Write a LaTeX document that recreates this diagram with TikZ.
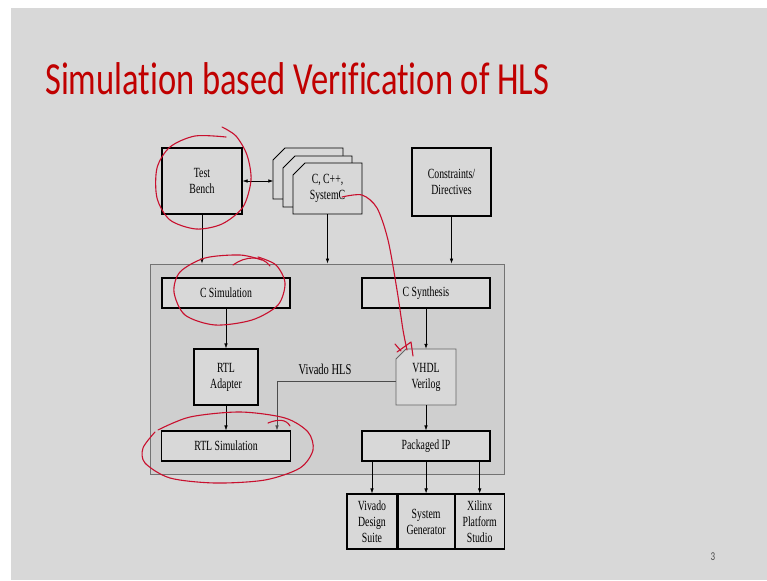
\documentclass[tikz,border=0pt]{standalone}
\usepackage{fontspec}
\usepackage{xcolor}
\usepackage{tikz}
\usetikzlibrary{positioning, arrows.meta}

\setmainfont{Liberation Serif}
\newfontfamily\titlefont[FakeStretch=0.75, Ligatures=NoCommon, RawFeature=-liga]{Carlito}
\newfontfamily\boxfont[FakeStretch=0.7]{Liberation Serif}

\definecolor{slide}{RGB}{216,216,216}
\definecolor{hlsgray}{RGB}{207,207,207}
\definecolor{titlered}{RGB}{192,0,0}
\definecolor{ink}{RGB}{200,16,46}

\begin{document}
\begin{tikzpicture}[x=1pt, y=-1pt,
    box/.style={draw, line width=1.1pt, fill=slide, inner sep=0pt, align=center,
      font=\boxfont\fontsize{14}{16}\selectfont},
    pagetext/.style={inner sep=0pt, align=center, minimum width=69, minimum height=51,
      font=\boxfont\fontsize{14}{16}\selectfont},
    pageline/.style={draw, line width=0.9pt, fill=slide, line join=miter},
    tool/.style={box, minimum height=55},
    arr/.style={-{Latex[length=5pt, width=3.5pt]}, line width=0.6pt},
    ink/.style={draw=ink, line width=1.1pt, line cap=round, line join=round}]
  % slide
  \fill[white] (0,0) rectangle (767,580);
  \fill[slide] (11,8) rectangle (767,580);
  \node[anchor=base west, text=titlered, font=\titlefont\fontsize{46}{50}\selectfont, inner sep=0pt]
    (title) at (45,95) {Simulation based Verification of HLS};
  \node[text=black!70, font=\titlefont\fontsize{12}{14}\selectfont] (pgno) at (713,557) {3};

  % inputs
  \node[box, minimum width=80, minimum height=66] (tb) at (202,181) {Test\\Bench};
  \filldraw[pageline] (273,199) -- (273,160) -- (285,148) -- (343,148) -- (343,199) -- cycle;
  \filldraw[pageline] (283,207) -- (283,168) -- (295,156) -- (352,156) -- (352,207) -- cycle;
  \filldraw[pageline] (293,214) -- (293,175) -- (305,163) -- (362,163) -- (362,214) -- cycle;
  \node[pagetext] (bk) at (308,173.5) {};
  \node[pagetext] (src) at (327.5,188.5) {C, C++,\\SystemC};
  \node[box, minimum width=79, minimum height=68] (con) at (451.5,182) {Constraints/\\Directives};

  % Vivado HLS
  \node[draw=black!55, line width=0.9pt, fill=hlsgray, minimum width=354, minimum height=210] (hls) at (327,369) {};
  \node[font=\boxfont\fontsize{15}{17}\selectfont] (hlsname) at (325,369) {Vivado HLS};
  \node[box, minimum width=128, minimum height=30] (csim) at (226,293) {C Simulation};
  \node[box, minimum width=128, minimum height=30] (csyn) at (426,293) {C Synthesis};
  \node[box, minimum width=64, minimum height=56] (rtla) at (226,377) {RTL\\Adapter};
  \filldraw[pageline, draw=black!60, line width=0.8pt] (396,405) -- (396,359) -- (406,349) -- (456,349) -- (456,405) -- cycle;
  \node[pagetext, minimum width=60, minimum height=56] (hdl) at (426,377) {VHDL\\Verilog};
  \node[box, minimum width=129, minimum height=30] (rtls) at (226,446) {RTL Simulation};
  \node[box, minimum width=128, minimum height=30] (pip) at (426,446) {Packaged IP};

  % tools
  \node[tool, minimum width=50] (vds) at (372,521.5) {Vivado\\Design\\Suite};
  \node[tool, minimum width=56, right=0pt of vds] (sg) {System\\Generator};
  \node[tool, minimum width=49, right=0pt of sg] (xps) {Xilinx\\Platform\\Studio};

  \draw[{Latex[length=5pt, width=3.5pt]}-{Latex[length=5pt, width=3.5pt]}, line width=0.6pt]
    (tb.east) -- (tb.east -| bk.west);
  \draw[arr] (tb.south) -- (tb.south |- hls.north);
  \draw[arr] (src.south) -- (src.south |- hls.north);
  \draw[arr] (con.south) -- (con.south |- hls.north);
  \draw[arr] (csim) -- (rtla);
  \draw[arr] (rtla) -- (rtls);
  \draw[arr] (csyn) -- (hdl);
  \draw[arr] (hdl) -- (pip);
  \draw[arr, draw=black!70] ([yshift=-4pt]hdl.west) -| ([xshift=51pt]rtls.north);
  \draw[arr] (vds.north |- pip.south) -- (vds.north);
  \draw[arr] (sg.north |- pip.south) -- (sg.north);
  \draw[arr] (xps.north |- pip.south) -- (xps.north);

  % red pen marks
  \draw[ink] plot[smooth] coordinates {(222,127) (236,136) (247,155) (251,180) (243,207) (222,224)
    (196,229) (170,220) (157,198) (157,168) (170,147) (195,136) (226,137)};
  \draw[ink] plot[smooth] coordinates {(262,260) (240,255) (205,258) (180,272) (174,292) (185,315)
    (215,325) (252,320) (278,305) (285,283) (276,265) (258,257)};
  \draw[ink] (233,265) .. controls (245,256) and (262,255) .. (270,266);
  \draw[ink] plot[smooth] coordinates {(158,430) (190,417) (240,412) (285,418) (308,432) (313,450)
    (300,468) (265,480) (215,483) (170,478) (145,463) (143,448) (155,432)};
  \draw[ink] (268,423) .. controls (278,419) and (286,419) .. (290,426);
  \draw[ink] plot[smooth] coordinates {(342,197) (362,195) (377,208) (388,240) (397,290) (403,330) (407,350)};
  \draw[ink] (397,352) -- (411,342) -- (413,356);
  \draw[ink] (395,344) -- (401,351);
\end{tikzpicture}
\end{document}
